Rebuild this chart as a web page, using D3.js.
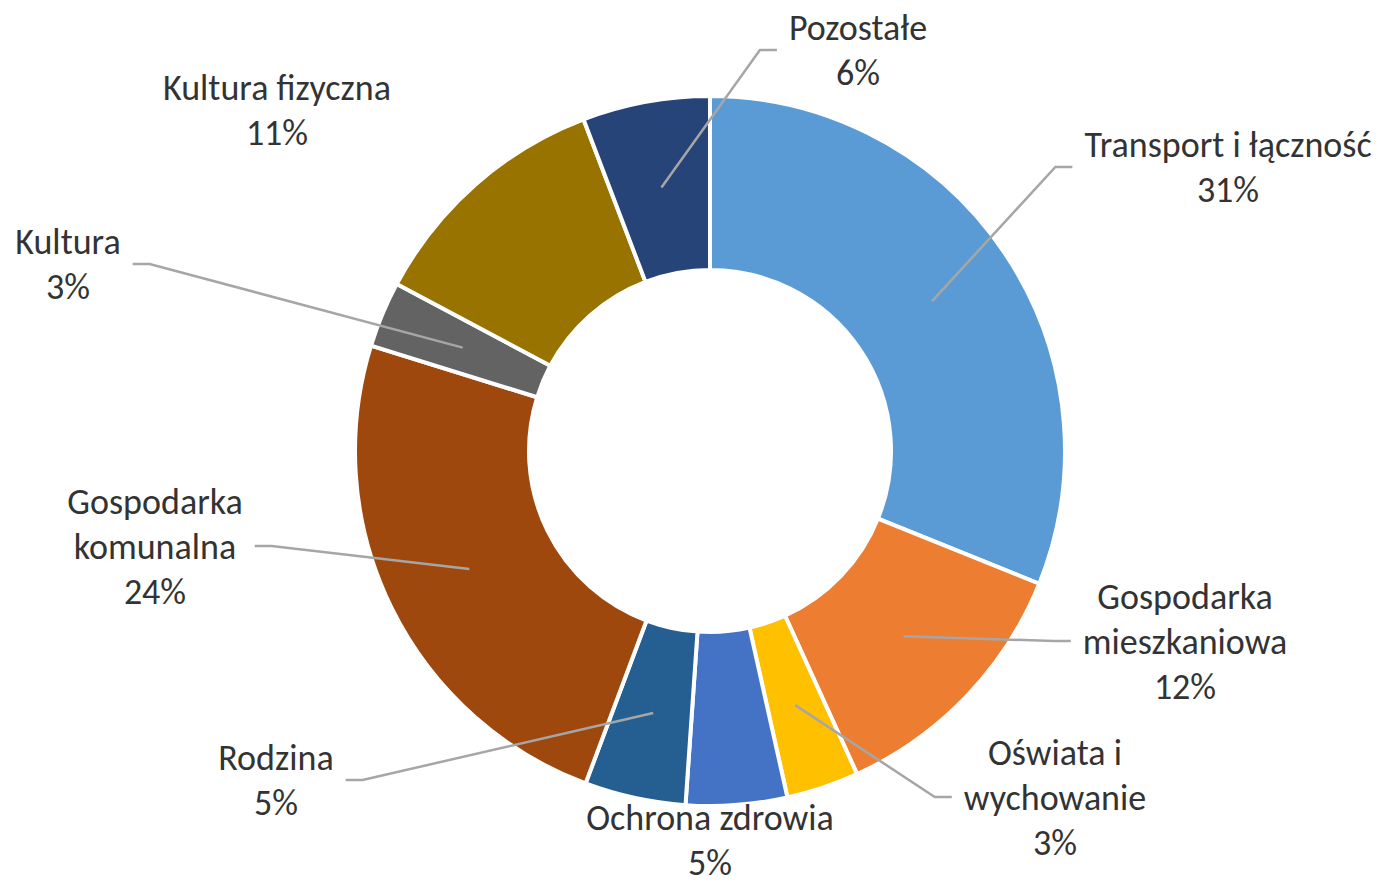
<!DOCTYPE html>
<html lang="pl">
<head>
<meta charset="UTF-8">
<title>Struktura wydatków</title>
<script src="https://d3js.org/d3.v7.min.js"></script>
<style>
  body { margin: 0; background: #fff; }
  text { font-family: Calibri, Carlito, Lato, sans-serif; fill: #333; }
</style>
</head>
<body>
<svg width="1385" height="885"></svg>
<script>
    // categories clockwise from 12 o'clock, "\n" marks the label line break
    var categories = [
        "Transport i łączność",
        "Gospodarka\nmieszkaniowa",
        "Oświata i\nwychowanie",
        "Ochrona zdrowia",
        "Rodzina",
        "Gospodarka\nkomunalna",
        "Kultura",
        "Kultura fizyczna",
        "Pozostałe"
    ];
    var shares = [31.1, 12.1, 3.3, 4.6, 4.6, 24.1, 3.0, 11.4, 5.8];
    var colors = ["#5B9BD5", "#ED7D31", "#FFC000", "#4472C4", "#255E91",
                  "#9E480E", "#636363", "#997300", "#264478"];

    // label block centres (Excel lets you drag them, so they are placed by hand)
    var labelPos = [[1228, 167], [1185, 641], [1055, 797], [710, 840], [276, 780],
                    [155, 546], [68, 264], [277, 110], [858, 50]];
    var hasLeader = [true, true, true, false, true, true, true, false, true];

    var svg = d3.select("svg"),
        cx = 710, cy = 451,
        outerR = 355, innerR = 181,
        lineH = 45;

    var g = svg.append("g").attr("transform", "translate(" + cx + "," + cy + ")");

    var total = d3.sum(shares);
    var pie = d3.pie().sort(null).value(function (d) { return d; });
    var arcs = pie(shares);
    var arc = d3.arc().innerRadius(innerR).outerRadius(outerR);

    g.selectAll("path.slice")
        .data(arcs)
        .enter().append("path")
        .attr("class", "slice")
        .attr("d", arc)
        .attr("fill", function (d, i) { return colors[i]; })
        .attr("stroke", "#fff")
        .attr("stroke-width", 4)
        .attr("stroke-linejoin", "round");

    // labels
    var labels = svg.selectAll("g.lbl")
        .data(arcs)
        .enter().append("g")
        .attr("class", "lbl");

    labels.each(function (d, i) {
        var lines = categories[i].split("\n");
        lines.push(Math.round(d.value / total * 100) + "%");
        var top = labelPos[i][1] - (lines.length - 1) * lineH / 2;
        var t = d3.select(this).append("text")
            .attr("text-anchor", "middle")
            .attr("font-size", 36);
        lines.forEach(function (s, k) {
            t.append("tspan")
                .attr("x", labelPos[i][0])
                .attr("y", top + k * lineH)
                .attr("dy", "0.35em")
                .text(s);
        });
        d.textWidth = t.node().getBBox().width;
    });

    // leader lines: slice centroid -> elbow -> short horizontal stub next to label
    var leaders = svg.append("g");
    arcs.forEach(function (d, i) {
        if (!hasLeader[i]) return;
        var c = arc.centroid(d);
        var start = [cx + c[0], cy + c[1]];
        var lx = labelPos[i][0], ly = labelPos[i][1];
        var right = lx > cx;
        var endX = right ? lx - d.textWidth / 2 - 12 : lx + d.textWidth / 2 + 12;
        var elbowX = right ? endX - 17 : endX + 17;
        leaders.append("path")
            .attr("d", d3.line()([start, [elbowX, ly], [endX, ly]]))
            .attr("fill", "none")
            .attr("stroke", "#A6A6A6")
            .attr("stroke-width", 2.5);
    });
</script>
</body>
</html>
